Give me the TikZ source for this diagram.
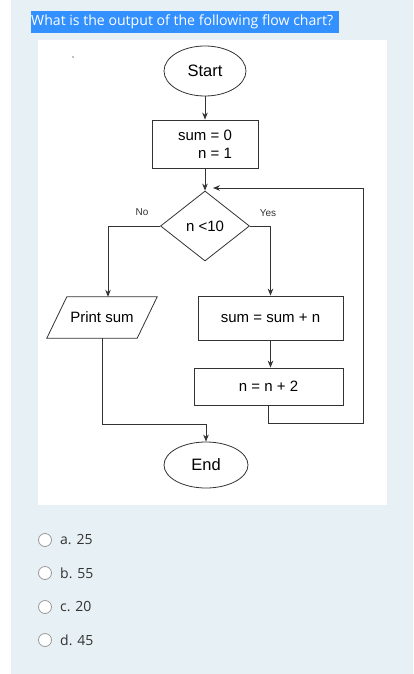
\documentclass[tikz,border=0pt]{standalone}
\usepackage{fontspec}
\setmainfont{Liberation Sans}
\newfontfamily\uifont{Open Sans}
\usetikzlibrary{shapes.geometric,arrows.meta}
\definecolor{panel}{HTML}{E7F0F4}
\definecolor{hl}{HTML}{3390FF}
\definecolor{ln}{HTML}{333333}
\definecolor{txt}{HTML}{333333}
\begin{document}
\begin{tikzpicture}[x=1pt,y=-1pt,
 shp/.style={draw=ln,line width=0.8pt,fill=white,inner sep=0pt,text=black,font=\fontsize{15}{18}\selectfont},
 term/.style={shp,ellipse,font=\fontsize{16.5}{18}\selectfont},
 proc/.style={shp,rectangle},
 cond/.style={shp,diamond},
 io/.style={inner sep=0pt,text=black,font=\fontsize{15}{18}\selectfont,rectangle},
 arr/.style={draw=ln,line width=0.8pt,-{Stealth[length=7pt,width=5.5pt]}},
 lin/.style={draw=ln,line width=0.8pt},
 lbl/.style={font=\fontsize{10}{12}\selectfont,text=ln,inner sep=0pt},
 opt/.style={font=\uifont\fontsize{14}{16}\selectfont,text=txt,anchor=west,inner sep=0pt},
 radio/.style={circle,draw=gray!80,fill=white,line width=0.8pt,minimum size=13pt,inner sep=0pt}
]
\useasboundingbox (0,0) rectangle (413,674);
\fill[white] (0,0) rectangle (413,674);
\fill[panel] (11,0) rectangle (413,674);
\fill[hl] (31,11) rectangle (339,33);
\node[font=\uifont\fontsize{14.1}{16}\selectfont,text=white,anchor=west,inner sep=0pt] (q) at (31,22) {What is the output of the following flow chart?};
\fill[white] (38,40) rectangle (387,505);
\fill[gray] (73,57) circle (0.8);

\node[term,minimum width=82pt,minimum height=50pt] (start) at (205,71) {Start};
\node[proc,minimum width=106pt,minimum height=48pt,align=right] (init) at (205,144) {sum = 0\\n = 1};
\node[cond,minimum width=89pt,minimum height=70pt] (dec) at (205,226) {n <10};
\node[io,minimum width=90pt,minimum height=41pt] (pr) at (102,317.5) {Print sum};
\draw[lin] ([xshift=10pt]pr.north west) -- ([xshift=10pt]pr.north east) -- ([xshift=-10pt]pr.south east) -- ([xshift=-10pt]pr.south west) -- cycle;
\node[proc,minimum width=145pt,minimum height=44pt] (upd) at (270.5,318) {sum = sum + n};
\node[proc,minimum width=149pt,minimum height=37pt] (inc) at (268.5,386.5) {n = n + 2};
\node[term,minimum width=84pt,minimum height=46pt] (end) at (206,465) {End};

\node[lbl] (no) at (142,212) {No};
\node[lbl] (yes) at (268,213) {Yes};

\coordinate (lb) at (363,423);
\coordinate (lt) at (363,188);
\coordinate (lend) at (213,188);
\coordinate (pj) at (0,424);

\draw[arr] (start) -- (init);
\draw[arr] (init) -- (dec);
\draw[arr] (dec.west) -| ([xshift=6pt]pr.north);
\draw[arr] (dec.east) -| (upd.north);
\draw[arr] (upd.south) -- (upd.south |- inc.north);
\draw[lin] (inc.south) |- (lb) -- (lt);
\draw[arr] (lt) -- (lend);
\draw[arr] (pr.south) |- (pj -| end.north) -- (end.north);

\foreach \y/\t [count=\i] in {540/a. 25,573/b. 55,607/c. 20,640/d. 45}{
  \node[radio] (r\i) at (45,\y) {};
  \node[opt] (o\i) at (60,\y) {\t};
}
\end{tikzpicture}
\end{document}
